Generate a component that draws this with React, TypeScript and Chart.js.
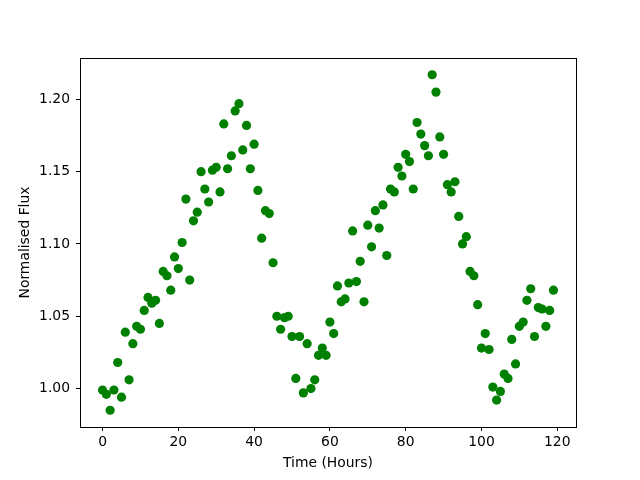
import React, { useEffect, useRef } from "react";
import { Chart, registerables } from "chart.js";

Chart.register(...registerables);

const hours = [
  0, 1, 2, 3, 4, 5, 6, 7, 8, 9, 10, 11, 12, 13, 14, 15, 16, 17, 18, 19,
  20, 21, 22, 23, 24, 25, 26, 27, 28, 29, 30, 31, 32, 33, 34, 35, 36, 37, 38, 39,
  40, 41, 42, 43, 44, 45, 46, 47, 48, 49, 50, 51, 52, 53, 54, 55, 56, 57, 58, 59,
  60, 61, 62, 63, 64, 65, 66, 67, 68, 69, 70, 71, 72, 73, 74, 75, 76, 77, 78, 79,
  80, 81, 82, 83, 84, 85, 86, 87, 88, 89, 90, 91, 92, 93, 94, 95, 96, 97, 98, 99,
  100, 101, 102, 103, 104, 105, 106, 107, 108, 109, 110, 111, 112, 113, 114, 115, 116, 117, 118, 119,
];

const flux = [
  0.999, 0.996, 0.985, 0.999, 1.018, 0.994, 1.039, 1.006, 1.031, 1.043,
  1.041, 1.054, 1.063, 1.059, 1.061, 1.045, 1.081, 1.078, 1.068, 1.091,
  1.083, 1.101, 1.131, 1.075, 1.116, 1.122, 1.150, 1.138, 1.129, 1.151,
  1.153, 1.136, 1.183, 1.152, 1.161, 1.192, 1.197, 1.165, 1.182, 1.152,
  1.169, 1.137, 1.104, 1.123, 1.121, 1.087, 1.050, 1.041, 1.049, 1.050,
  1.036, 1.007, 1.036, 0.997, 1.031, 1.000, 1.006, 1.023, 1.028, 1.023,
  1.046, 1.038, 1.071, 1.060, 1.062, 1.073, 1.109, 1.074, 1.088, 1.060,
  1.113, 1.098, 1.123, 1.111, 1.127, 1.092, 1.138, 1.136, 1.153, 1.147,
  1.162, 1.157, 1.138, 1.184, 1.176, 1.168, 1.161, 1.217, 1.205, 1.174,
  1.162, 1.141, 1.136, 1.143, 1.119, 1.100, 1.105, 1.081, 1.078, 1.058,
  1.028, 1.038, 1.027, 1.001, 0.992, 0.998, 1.010, 1.007, 1.034, 1.017,
  1.043, 1.046, 1.061, 1.069, 1.036, 1.056, 1.055, 1.043, 1.054, 1.068,
];

const xTicks = [0, 20, 40, 60, 80, 100, 120];
const yTicks = [1.0, 1.05, 1.1, 1.15, 1.2];
const xLimits = [-5.95, 124.95];
const yLimits = [0.9734, 1.2286];

const xTitle = "Time (Hours)";
const yTitle = "Normalised Flux";

const FONT = "'DejaVu Sans', sans-serif";
const FS = 13.9;

const frame = {
  id: "frame",
  afterDraw(chart: any) {
    const { ctx, chartArea } = chart;
    ctx.save();
    ctx.strokeStyle = "#000";
    ctx.lineWidth = 1;
    ctx.strokeRect(
      Math.round(chartArea.left) + 0.5,
      Math.round(chartArea.top) + 0.5,
      Math.round(chartArea.right - chartArea.left),
      Math.round(chartArea.bottom - chartArea.top)
    );
    ctx.restore();
  },
};

export default function App() {
  const ref = useRef<HTMLCanvasElement | null>(null);

  useEffect(() => {
    if (!ref.current) return;
    const points = hours.map((h, i) => ({ x: h, y: flux[i] }));
    const chart = new Chart(ref.current, {
      type: "scatter",
      data: {
        datasets: [
          {
            data: points,
            backgroundColor: "#008000",
            borderColor: "#008000",
            borderWidth: 0,
            pointRadius: 4.6,
            pointHoverRadius: 4.6,
          },
        ],
      },
      options: {
        animation: false,
        responsive: false,
        devicePixelRatio: 1,
        layout: { padding: { left: 0, top: 58, right: 64, bottom: 0 } },
        plugins: { legend: { display: false }, tooltip: { enabled: false } },
        scales: {
          x: {
            type: "linear",
            min: xLimits[0],
            max: xLimits[1],
            afterBuildTicks: (s: any) => {
              s.ticks = xTicks.map((v) => ({ value: v }));
            },
            afterFit: (s: any) => {
              s.height = 53;
            },
            ticks: {
              color: "#000",
              font: { family: FONT, size: FS },
              padding: 3,
              maxRotation: 0,
              callback: (v: any) => String(v),
            },
            grid: {
              display: true,
              drawOnChartArea: false,
              drawTicks: true,
              tickLength: 4,
              tickColor: "#000",
            },
            border: { display: true, color: "#000", width: 1 },
            title: {
              display: true,
              text: xTitle,
              color: "#000",
              font: { family: FONT, size: FS },
              padding: { top: 0, bottom: 8.5 },
            },
          },
          y: {
            type: "linear",
            min: yLimits[0],
            max: yLimits[1],
            afterBuildTicks: (s: any) => {
              s.ticks = yTicks.map((v) => ({ value: v }));
            },
            afterFit: (s: any) => {
              s.width = 80;
            },
            ticks: {
              color: "#000",
              font: { family: FONT, size: FS },
              padding: 6,
              callback: (v: any) => Number(v).toFixed(2),
            },
            grid: {
              display: true,
              drawOnChartArea: false,
              drawTicks: true,
              tickLength: 4,
              tickColor: "#000",
            },
            border: { display: true, color: "#000", width: 1 },
            title: {
              display: true,
              text: yTitle,
              color: "#000",
              font: { family: FONT, size: FS },
              padding: { top: 17.5, bottom: 0 },
            },
          },
        },
      },
      plugins: [frame],
    });
    return () => chart.destroy();
  }, []);

  return (
    <div style={{ position: "fixed", left: 0, top: 0, width: 640, height: 480, background: "#fff" }}>
      <canvas ref={ref} width={640} height={480} style={{ width: 640, height: 480, display: "block" }} />
    </div>
  );
}
